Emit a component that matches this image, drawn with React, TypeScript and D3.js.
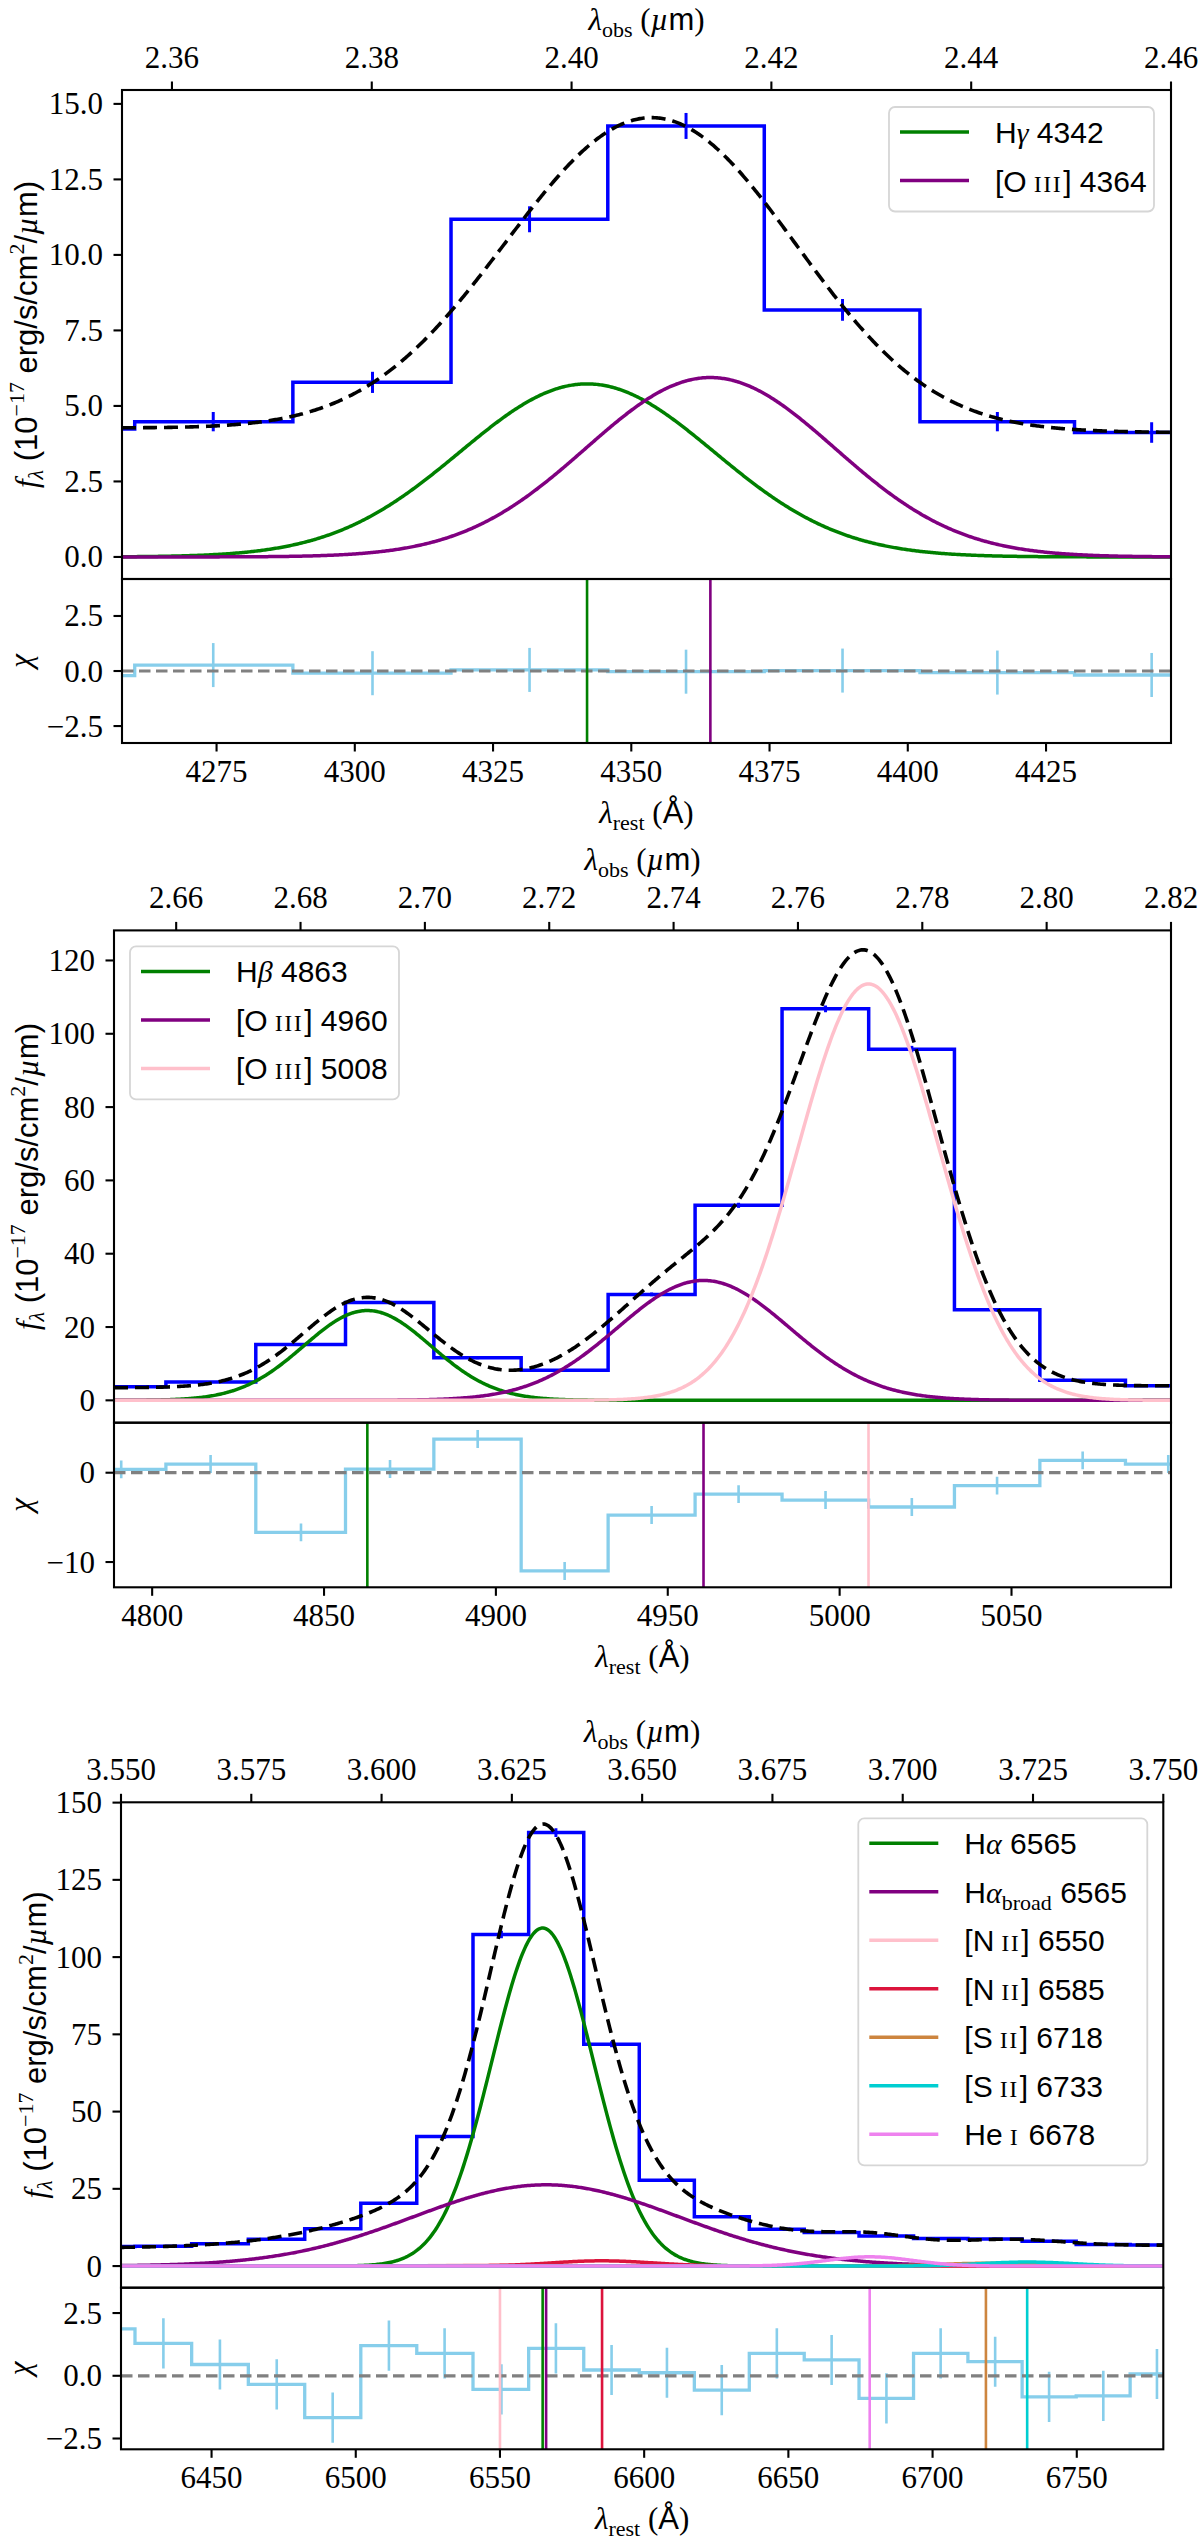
import * as d3 from 'd3';

const SANS = '"Liberation Sans", Arial, sans-serif';
const SERIF = '"Liberation Serif", "Times New Roman", serif';

// ---------- panel A: Hγ + [O III] 4364 ----------
const restA = [4246.0, 4274.4, 4303.2, 4331.6, 4359.9, 4388.2, 4416.2, 4444.1];
const fluxA = [4.24, 4.48, 5.78, 11.18, 14.27, 8.18, 4.48, 4.12];
const errA = [0.33, 0.32, 0.35, 0.43, 0.43, 0.36, 0.32, 0.34];
const chiA = [-0.21, 0.27, -0.1, 0.05, -0.03, 0.02, -0.07, -0.18];
const namesA = ['Hγ 4342', '[O III] 4364'];
const centersA = [4342.0, 4364.3];
const ampsA = [5.73, 5.94];
const sigmasA = [23.0, 22.5];
const colorsA = ['#008000', '#800080'];
const contA = [4.27, 4.12];
const obsTicksA = [2.36, 2.38, 2.4, 2.42, 2.44, 2.46];
const restTicksA = [4275, 4300, 4325, 4350, 4375, 4400, 4425];
const fluxTicksA = [0, 2.5, 5, 7.5, 10, 12.5, 15];
const chiTicksA = [-2.5, 0, 2.5];

// ---------- panel B: Hβ + [O III] doublet ----------
const restB = [4791.0, 4817.0, 4843.3, 4869.2, 4894.7, 4920.0, 4945.3, 4970.6, 4995.9, 5021.0, 5045.8, 5070.7, 5095.6];
const fluxB = [3.7, 5.0, 15.2, 26.7, 11.6, 8.2, 28.9, 53.2, 106.8, 95.8, 24.7, 5.5, 4.0];
const errB = [0.3, 0.3, 0.4, 0.5, 0.4, 0.4, 0.5, 0.7, 0.9, 0.9, 0.5, 0.3, 0.3];
const chiB = [0.38, 0.97, -6.68, 0.41, 3.77, -11.0, -4.74, -2.39, -3.06, -3.84, -1.45, 1.38, 0.97];
const namesB = ['Hβ 4863', '[O III] 4960', '[O III] 5008'];
const centersB = [4862.6, 4960.4, 5008.4];
const ampsB = [24.5, 32.7, 113.6];
const sigmasB = [18.5, 25.0, 20.5];
const colorsB = ['#008000', '#800080', '#ffc0cb'];
const contB = [3.45, 3.95];
const obsTicksB = [2.66, 2.68, 2.7, 2.72, 2.74, 2.76, 2.78, 2.8, 2.82];
const restTicksB = [4800, 4850, 4900, 4950, 5000, 5050];
const fluxTicksB = [0, 20, 40, 60, 80, 100, 120];
const chiTicksB = [-10, 0];

// ---------- panel C: Hα complex ----------
const restC = [6413.6, 6433.3, 6452.9, 6472.6, 6492.0, 6511.5, 6530.8, 6550.5, 6569.4, 6588.7,
  6607.9, 6626.9, 6646.0, 6665.0, 6684.0, 6702.8, 6721.7, 6740.4, 6759.2, 6777.8];
const fluxC = [6.3, 6.4, 7.2, 8.7, 12.1, 20.3, 41.9, 107.3, 140.3, 71.8,
  27.8, 16.0, 11.9, 10.9, 9.7, 8.9, 8.8, 8.0, 7.0, 6.8];
const errC = [0.3, 0.3, 0.3, 0.35, 0.4, 0.5, 0.8, 1.2, 1.4, 1.0,
  0.6, 0.45, 0.4, 0.4, 0.35, 0.35, 0.35, 0.35, 0.3, 0.3];
const chiC = [1.87, 1.29, 0.45, -0.34, -1.67, 1.2, 0.89, -0.54, 1.09, 0.23,
  0.12, -0.57, 0.89, 0.63, -0.9, 0.89, 0.56, -0.84, -0.8, 0.07];
const namesC = ['Hα 6565', 'Hα_broad 6565', '[N II] 6550', '[N II] 6585', '[S II] 6718', '[S II] 6733', 'He I 6678'];
const centersC = [6564.8, 6566.0, 6550.0, 6585.4, 6718.5, 6732.8, 6678.2];
const ampsC = [109.4, 26.3, 0.4, 1.7, 0.9, 1.3, 3.0];
const sigmasC = [17.6, 46.0, 17.6, 17.6, 16.0, 16.0, 15.0];
const colorsC = ['#008000', '#800080', '#ffc0cb', '#dc143c', '#cd853f', '#00ced1', '#ee82ee'];
const contC = [5.9, 6.75];
const obsTicksC = [3.55, 3.575, 3.6, 3.625, 3.65, 3.675, 3.7, 3.725, 3.75];
const restTicksC = [6450, 6500, 6550, 6600, 6650, 6700, 6750];
const fluxTicksC = [0, 25, 50, 75, 100, 125, 150];
const chiTicksC = [-2.5, 0, 2.5];

const gauss = (x: number, c: number, a: number, s: number) => a * Math.exp(-((x - c) ** 2) / (2 * s * s));
const fmt = (v: number, d: number) => v.toFixed(d).replace('-', '\u2212');

// steps-mid, extended half a bin at each end
function stepPath(xs: number[], ys: number[], sx: (v: number) => number, sy: (v: number) => number) {
  const n = xs.length;
  const edges = [xs[0] - (xs[1] - xs[0]) / 2];
  for (let i = 1; i < n; i++) edges.push((xs[i - 1] + xs[i]) / 2);
  edges.push(xs[n - 1] + (xs[n - 1] - xs[n - 2]) / 2);
  let d = `M${sx(edges[0])},${sy(ys[0])}H${sx(edges[1])}`;
  for (let i = 1; i < n; i++) d += `V${sy(ys[i])}H${sx(edges[i + 1])}`;
  return d;
}

function LineLabel({ name }: { name: string }) {
  const m = name.match(/^(\[?)([A-Z][a-z]?)([αβγ]?)(?:_(\w+))?(?: (I+))?(\]?) (\d+)$/);
  if (!m) return <tspan>{name}</tspan>;
  const [, lb, el, greek, sub, ion, rb, wl] = m;
  return (
    <>
      <tspan>{lb + el}</tspan>
      {greek && <tspan fontFamily={SERIF} fontStyle="italic">{greek}</tspan>}
      {sub && <tspan fontFamily={SERIF} fontSize={22} dy={7}>{sub}</tspan>}
      {ion && <tspan fontFamily={SERIF} fontSize={24} dx={7} letterSpacing={1.5}>{ion}</tspan>}
      <tspan dy={sub ? -7 : 0} dx={ion ? 1 : 0}>{rb + '\u00a0' + wl}</tspan>
    </>
  );
}

function Legend({ x, y, w, names, colors }: { x: number; y: number; w: number; names: string[]; colors: string[] }) {
  const h = 25 + (names.length - 1) * 48.5 + 31;
  return (
    <g>
      <rect x={x} y={y} width={w} height={h} rx={6} fill="#fff" fillOpacity={0.8} stroke="#d6d6d6" strokeWidth={1.8} />
      {names.map((nm, i) => {
        const cy = y + 25 + i * 48.5;
        return (
          <g key={nm + i}>
            <line x1={x + 11} x2={x + 80} y1={cy} y2={cy} stroke={colors[i]} strokeWidth={3.5} />
            <text x={x + 106} y={cy + 11} fontFamily={SANS} fontSize={30} fill="#000">
              <LineLabel name={nm} />
            </text>
          </g>
        );
      })}
    </g>
  );
}

function LamLabel({ x, y, sub, unit }: { x: number; y: number; sub: string; unit: string }) {
  return (
    <text x={x} y={y} textAnchor="middle" fontFamily={SERIF} fontSize={31} style={{ whiteSpace: 'pre' }}>
      <tspan fontStyle="italic">λ</tspan>
      <tspan fontSize={22} dy={7}>{sub}</tspan>
      <tspan dy={-7}>{' ('}</tspan>
      {unit === 'um' ? (
        <>
          <tspan fontStyle="italic">µ</tspan>
          <tspan fontFamily={SANS}>m</tspan>
        </>
      ) : (
        <tspan fontFamily={SANS}>Å</tspan>
      )}
      <tspan>)</tspan>
    </text>
  );
}

function FluxLabel({ x, cy }: { x: number; cy: number }) {
  return (
    <text transform={`translate(${x},${cy}) rotate(-90)`} textAnchor="middle" fontFamily={SANS} fontSize={31}
      style={{ whiteSpace: 'pre' }}>
      <tspan fontFamily={SERIF} fontStyle="italic">f</tspan>
      <tspan fontFamily={SERIF} fontStyle="italic" fontSize={22} dy={6}>λ</tspan>
      <tspan dy={-6}>{' (10'}</tspan>
      <tspan fontFamily={SERIF} fontSize={22} dy={-13}>{'\u221217'}</tspan>
      <tspan dy={13}>{' erg/s/cm'}</tspan>
      <tspan fontFamily={SERIF} fontSize={22} dy={-13}>2</tspan>
      <tspan dy={13}>/</tspan>
      <tspan fontFamily={SERIF} fontStyle="italic">µ</tspan>
      <tspan>m)</tspan>
    </text>
  );
}

type Layout = { left: number; right: number; top: number; mid: number; bottom: number; ylabX: number; chiX: number };

type PanelProps = {
  id: string;
  L: Layout;
  restDomain: [number, number];
  obsDomain: [number, number];
  fluxDomain: [number, number];
  chiDomain: [number, number];
  obsTicks: number[]; obsDigits: number;
  restTicks: number[];
  fluxTicks: number[]; fluxDigits: number;
  chiTicks: number[]; chiDigits: number;
  rest: number[]; flux: number[]; err: number[]; chi: number[];
  names: string[]; centers: number[]; amps: number[]; sigmas: number[]; colors: string[];
  cont: number[];
  legend: { x: number; y: number; w: number };
};

function Panel(p: PanelProps) {
  const { L } = p;
  const xRest = d3.scaleLinear().domain(p.restDomain).range([L.left, L.right]);
  const xObs = d3.scaleLinear().domain(p.obsDomain).range([L.left, L.right]);
  const yF = d3.scaleLinear().domain(p.fluxDomain).range([L.mid, L.top]);
  const yC = d3.scaleLinear().domain(p.chiDomain).range([L.bottom, L.mid]);

  const [r0, r1] = p.restDomain;
  const grid = d3.range(0, 801).map(i => r0 + ((r1 - r0) * i) / 800);
  const cont = (x: number) => p.cont[0] + ((p.cont[1] - p.cont[0]) * (x - r0)) / (r1 - r0);
  const comp = (k: number, x: number) => gauss(x, p.centers[k], p.amps[k], p.sigmas[k]);
  const line = d3.line<[number, number]>().x(d => xRest(d[0])).y(d => yF(d[1]));
  const compPaths = p.centers.map((_, k) => line(grid.map(x => [x, comp(k, x)] as [number, number])));
  const modelPath = line(grid.map(x => [x, cont(x) + p.centers.reduce((s, _, k) => s + comp(k, x), 0)] as [number, number]));

  const inside = (v: number, dom: [number, number]) => v >= Math.min(...dom) - 1e-6 && v <= Math.max(...dom) + 1e-6;
  const tickW = 2.1;

  return (
    <g>
      <defs>
        <clipPath id={`main-${p.id}`}>
          <rect x={L.left} y={L.top} width={L.right - L.left} height={L.mid - L.top} />
        </clipPath>
        <clipPath id={`res-${p.id}`}>
          <rect x={L.left} y={L.mid} width={L.right - L.left} height={L.bottom - L.mid} />
        </clipPath>
      </defs>

      {/* main spectrum */}
      <g clipPath={`url(#main-${p.id})`}>
        <path d={stepPath(p.rest, p.flux, xRest, yF)} fill="none" stroke="#0000ff" strokeWidth={3.5} />
        {p.rest.map((c, i) => (
          <line key={i} x1={xRest(c)} x2={xRest(c)} y1={yF(p.flux[i] - p.err[i])} y2={yF(p.flux[i] + p.err[i])}
            stroke="#0000ff" strokeWidth={3} />
        ))}
        {compPaths.map((d, k) => (
          <path key={k} d={d || ''} fill="none" stroke={p.colors[k]} strokeWidth={3.5} />
        ))}
        <path d={modelPath || ''} fill="none" stroke="#000" strokeWidth={3.6} strokeDasharray="14 7" />
      </g>

      {/* residuals */}
      <g clipPath={`url(#res-${p.id})`}>
        <path d={stepPath(p.rest, p.chi, xRest, yC)} fill="none" stroke="#87ceeb" strokeWidth={3.3} />
        {p.rest.map((c, i) => (
          <line key={i} x1={xRest(c)} x2={xRest(c)} y1={yC(p.chi[i] - 1)} y2={yC(p.chi[i] + 1)}
            stroke="#87ceeb" strokeWidth={2.6} />
        ))}
        <line x1={L.left} x2={L.right} y1={yC(0)} y2={yC(0)} stroke="#808080" strokeWidth={3.2} strokeDasharray="11.5 5.5" />
        {p.centers.map((c, k) => ({ c, k })).reverse().map(({ c, k }) => (
          <line key={k} x1={xRest(c)} x2={xRest(c)} y1={L.mid} y2={L.bottom} stroke={p.colors[k]} strokeWidth={2.6} />
        ))}
      </g>

      {/* spines */}
      <rect x={L.left} y={L.top} width={L.right - L.left} height={L.mid - L.top} fill="none" stroke="#000" strokeWidth={2.1} />
      <rect x={L.left} y={L.mid} width={L.right - L.left} height={L.bottom - L.mid} fill="none" stroke="#000" strokeWidth={2.1} />

      {/* top (observed) axis */}
      {p.obsTicks.filter(t => inside(t, p.obsDomain)).map(t => (
        <g key={`o${t}`}>
          <line x1={xObs(t)} x2={xObs(t)} y1={L.top - 8.5} y2={L.top} stroke="#000" strokeWidth={tickW} />
          <text x={xObs(t)} y={L.top - 22} textAnchor="middle" fontFamily={SERIF} fontSize={31}>{fmt(t, p.obsDigits)}</text>
        </g>
      ))}
      {/* bottom (rest) axis */}
      {p.restTicks.filter(t => inside(t, p.restDomain)).map(t => (
        <g key={`r${t}`}>
          <line x1={xRest(t)} x2={xRest(t)} y1={L.bottom} y2={L.bottom + 8.5} stroke="#000" strokeWidth={tickW} />
          <text x={xRest(t)} y={L.bottom + 39} textAnchor="middle" fontFamily={SERIF} fontSize={31}>{fmt(t, 0)}</text>
        </g>
      ))}
      {/* flux axis */}
      {p.fluxTicks.filter(t => inside(t, p.fluxDomain)).map(t => (
        <g key={`f${t}`}>
          <line x1={L.left - 8.5} x2={L.left} y1={yF(t)} y2={yF(t)} stroke="#000" strokeWidth={tickW} />
          <text x={L.left - 19} y={yF(t) + 10.5} textAnchor="end" fontFamily={SERIF} fontSize={31}>{fmt(t, p.fluxDigits)}</text>
        </g>
      ))}
      {/* chi axis */}
      {p.chiTicks.filter(t => inside(t, p.chiDomain)).map(t => (
        <g key={`c${t}`}>
          <line x1={L.left - 8.5} x2={L.left} y1={yC(t)} y2={yC(t)} stroke="#000" strokeWidth={tickW} />
          <text x={L.left - 19} y={yC(t) + 10.5} textAnchor="end" fontFamily={SERIF} fontSize={31}>{fmt(t, p.chiDigits)}</text>
        </g>
      ))}

      <LamLabel x={(L.left + L.right) / 2} y={L.top - 60} sub="obs" unit="um" />
      <LamLabel x={(L.left + L.right) / 2} y={L.bottom + 80} sub="rest" unit="A" />
      <FluxLabel x={L.ylabX} cy={(L.top + L.mid) / 2} />
      <text transform={`translate(${L.chiX},${(L.mid + L.bottom) / 2}) rotate(-90)`} textAnchor="middle"
        fontFamily={SERIF} fontStyle="italic" fontSize={31}>χ</text>

      <Legend x={p.legend.x} y={p.legend.y} w={p.legend.w} names={p.names} colors={p.colors} />
    </g>
  );
}

export default function App() {
  return (
    <svg width={1200} height={2541} viewBox="0 0 1200 2541"
      style={{ position: 'absolute', left: 0, top: 0, display: 'block', background: '#fff' }}>
      <rect x={0} y={0} width={1200} height={2541} fill="#fff" />
      <Panel id="a"
        L={{ left: 122, right: 1171, top: 90, mid: 579, bottom: 743, ylabX: 37, chiX: 31 }}
        restDomain={[4257.9, 4447.6]} obsDomain={[2.355, 2.46]}
        fluxDomain={[-0.73, 15.46]} chiDomain={[-3.27, 4.18]}
        obsTicks={obsTicksA} obsDigits={2} restTicks={restTicksA}
        fluxTicks={fluxTicksA} fluxDigits={1} chiTicks={chiTicksA} chiDigits={1}
        rest={restA} flux={fluxA} err={errA} chi={chiA}
        names={namesA} centers={centersA} amps={ampsA} sigmas={sigmasA} colors={colorsA}
        cont={contA} legend={{ x: 889, y: 107, w: 265 }} />
      <Panel id="b"
        L={{ left: 114, right: 1171, top: 930.4, mid: 1422.7, bottom: 1587.3, ylabX: 38, chiX: 31 }}
        restDomain={[4788.9, 5096.4]} obsDomain={[2.65, 2.82]}
        fluxDomain={[-6.1, 128.2]} chiDomain={[-12.83, 5.6]}
        obsTicks={obsTicksB} obsDigits={2} restTicks={restTicksB}
        fluxTicks={fluxTicksB} fluxDigits={0} chiTicks={chiTicksB} chiDigits={0}
        rest={restB} flux={fluxB} err={errB} chi={chiB}
        names={namesB} centers={centersB} amps={ampsB} sigmas={sigmasB} colors={colorsB}
        cont={contB} legend={{ x: 130, y: 946.4, w: 269 }} />
      <Panel id="c"
        L={{ left: 121, right: 1163.3, top: 1802.3, mid: 2287.7, bottom: 2449.3, ylabX: 46, chiX: 30 }}
        restDomain={[6418.6, 6780.0]} obsDomain={[3.55, 3.75]}
        fluxDomain={[-7.0, 150.1]} chiDomain={[-2.93, 3.51]}
        obsTicks={obsTicksC} obsDigits={3} restTicks={restTicksC}
        fluxTicks={fluxTicksC} fluxDigits={0} chiTicks={chiTicksC} chiDigits={1}
        rest={restC} flux={fluxC} err={errC} chi={chiC}
        names={namesC} centers={centersC} amps={ampsC} sigmas={sigmasC} colors={colorsC}
        cont={contC} legend={{ x: 858.3, y: 1818.3, w: 289 }} />
    </svg>
  );
}
